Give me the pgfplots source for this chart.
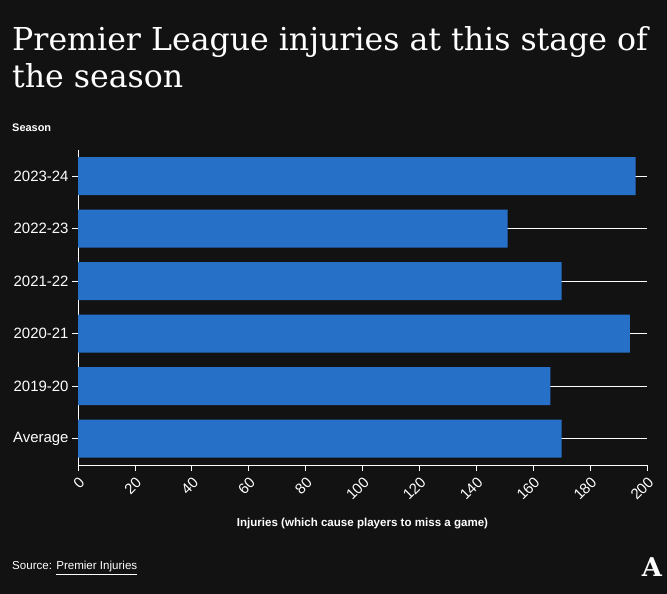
\documentclass[border=0pt]{standalone}
\usepackage{pgfplots}
\pgfplotsset{compat=1.18}
\usepackage{fontspec}
\setmainfont{Liberation Sans}
\newfontfamily\titlefont{DejaVu Serif}
\definecolor{bg}{HTML}{121212}
\definecolor{barblue}{HTML}{2670C8}
\begin{document}
\begin{tikzpicture}[x=1bp,y=1bp]
\fill[bg] (0,0) rectangle (667,594);
\node[anchor=base west, text=white, font=\titlefont\fontsize{31.7}{37}\selectfont, inner sep=0] at (12,543) {Premier League injuries at this stage of};
\node[anchor=base west, text=white, font=\titlefont\fontsize{31.7}{37}\selectfont, inner sep=0] at (12,506) {the season};
\node[anchor=west, text=white, font=\bfseries\fontsize{11}{13}\selectfont, inner sep=0] at (12,466) {Season};
\begin{axis}[
  at={(78bp,129bp)}, anchor=south west,
  scale only axis, width=569bp, height=315bp,
  xbar, bar width=38bp,
  xmin=0, xmax=200, ymin=-0.5, ymax=5.5, enlargelimits=false,
  ytick={0,1,2,3,4,5},
  yticklabels={Average,2019-20,2020-21,2021-22,2022-23,2023-24},
  xtick={0,20,...,200},
  axis x line*=bottom, axis y line*=left,
  ymajorgrids, grid style={white, line width=0.8pt},
  axis line style={white, line width=0.8pt, -},
  tick style={white, line width=0.8pt},
  major tick length=6bp, tick align=outside,
  /pgf/number format/assume math mode=true,
  x tick label style={rotate=45, anchor=north east, font=\fontsize{15}{17}\selectfont, text=white},
  y tick label style={font=\fontsize{15}{17}\selectfont, text=white},
]
\addplot[fill=barblue, draw=none] coordinates {(170,0) (166,1) (194,2) (170,3) (151,4) (196,5)};
\end{axis}
\node[text=white, font=\bfseries\fontsize{11.6}{13}\selectfont, inner sep=0] at (362.5,70) {Injuries (which cause players to miss a game)};
\node[anchor=west, text=white, font=\fontsize{11.6}{13}\selectfont, inner sep=0] at (12,26) {Source: \underline{Premier Injuries}};
\node[text=white, font=\titlefont\bfseries\fontsize{26}{28}\selectfont, inner sep=0] at (652,27) {A};
\end{tikzpicture}
\end{document}
